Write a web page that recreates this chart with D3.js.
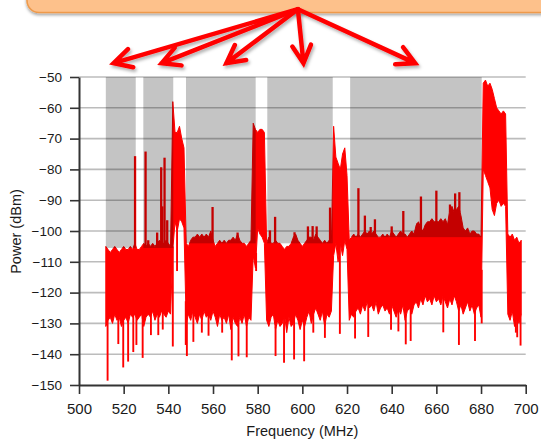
<!DOCTYPE html>
<html>
<head>
<meta charset="utf-8">
<script src="https://cdn.jsdelivr.net/npm/d3@7"></script>
<style>
    body { margin: 0; background: #fff; }
    svg { display: block; font-family: "Liberation Sans", Arial, sans-serif; }
</style>
</head>
<body>
<svg id="chart" width="541" height="440"></svg>
<script>

// ****************** data ***************************

var xTicks = [500, 520, 540, 560, 580, 600, 620, 640, 660, 680, 700];
var yTicks = [-150, -140, -130, -120, -110, -100, -90, -80, -70, -60, -50];

// 1 MHz bins of the sweep, 512 .. 698 MHz
var freqs = d3.range(512, 699);

// max hold / min hold of every bin (dBm)
var upperDbm = [
    -105, -106, -107, -106, -105, -106, -107, -106, -105, -106,
    -106, -105, -106, -104, -106, -106, -105, -104, -105, -104,
    -105, -104, -105, -104, -103, -104, -104, -103, -104, -105,
    -58, -68, -68, -66, -70, -73, -104, -105, -103, -102,
    -102, -101, -102, -101, -102, -101, -102, -100, -103, -105,
    -104, -103, -104, -103, -104, -103, -103, -102, -103, -101,
    -103, -104, -104, -105, -104, -103, -65, -67, -68, -67,
    -67, -68, -104, -102, -104, -104, -103, -104, -104, -105,
    -106, -105, -105, -104, -102, -101, -103, -104, -105, -104,
    -103, -102, -102, -103, -101, -102, -103, -104, -103, -104,
    -103, -104, -66, -76, -78, -80, -75, -73, -82, -103,
    -102, -101, -102, -101, -102, -101, -100, -101, -100, -101,
    -100, -101, -102, -102, -101, -102, -101, -102, -100, -101,
    -102, -101, -100, -101, -101, -102, -101, -100, -101, -98,
    -97, -99, -100, -98, -97, -97, -96, -97, -97, -97,
    -96, -97, -96, -98, -93, -92, -94, -93, -92, -95,
    -99, -100, -99, -101, -100, -100, -101, -101, -102, -52,
    -51, -53, -52, -54, -57, -60, -61, -62, -61, -62,
    -101, -102, -101, -103, -102, -104, -103
];
var lowerDbm = [
    -131, -129, -128, -130, -127, -129, -128, -131, -129, -128,
    -130, -127, -128, -127, -129, -128, -127, -131, -128, -127,
    -128, -126, -129, -127, -128, -126, -127, -128, -126, -127,
    -106, -97, -100, -96, -97, -99, -130, -127, -129, -126,
    -128, -130, -127, -129, -126, -128, -127, -129, -126, -128,
    -131, -127, -129, -128, -130, -127, -132, -128, -130, -131,
    -128, -130, -127, -131, -128, -129, -108, -112, -99, -101,
    -102, -104, -129, -131, -128, -127, -132, -129, -131, -130,
    -127, -133, -128, -131, -130, -127, -129, -132, -129, -131,
    -128, -126, -130, -127, -125, -127, -129, -126, -131, -127,
    -128, -126, -108, -104, -110, -104, -108, -103, -106, -129,
    -127, -128, -126, -125, -127, -124, -126, -123, -125, -124,
    -126, -123, -127, -125, -124, -126, -125, -127, -124, -126,
    -128, -125, -127, -124, -129, -126, -125, -127, -124, -123,
    -125, -122, -124, -121, -123, -122, -124, -121, -123, -122,
    -124, -121, -123, -125, -122, -124, -121, -123, -126, -124,
    -127, -125, -123, -126, -124, -127, -125, -124, -128, -80,
    -82, -84, -86, -93, -95, -91, -90, -92, -91, -92,
    -127, -129, -126, -131, -128, -130, -127
];

// narrow carriers sticking out of the floor
var spikeFreq = [525.1, 529.8, 531.0, 535.0, 536.8, 537.3, 538.3, 539.5, 559.8, 571.0,
    585.5, 587.8, 596.5, 602.5, 604.6, 606.4, 612.4, 625.1, 628.0, 630.6,
    632.5, 640.0, 645.2, 651.5, 653.1, 660.0, 666.1, 668.4, 670.3];
var spikePeak = [-75.7, -74.2, -103, -100.5, -79.3, -92, -76.2, -96.5, -92.2, -100.5,
    -99.8, -95.4, -100.4, -98.5, -98.4, -98.5, -92.4, -86.1, -95.0, -98.7,
    -96.2, -98.5, -93.5, -97.5, -88.8, -86.9, -91.4, -87.8, -87.4];

// deep single-bin drops
var dipFreq = [512.8, 517.6, 519.8, 522.0, 524.3, 525.7, 528.5, 532.2, 535.5, 537.5,
    542.0, 543.9, 547.8, 548.3, 551.2, 555.0, 558.0, 564.1, 568.4, 571.4,
    575.1, 579.3, 588.0, 591.8, 596.3, 600.8, 604.9, 610.1, 616.8, 623.6,
    629.5, 639.7, 643.0, 646.3, 648.5, 663.1, 670.1, 677.3, 680.3, 695.6,
    696.2, 697.7];
var dipLow = [-148.6, -136.7, -144.3, -142.4, -139.3, -137, -141.2, -133.8, -133.8, -132,
    -137.5, -113, -137, -140.6, -136, -133, -134, -133, -142, -140.7,
    -141, -113, -140.6, -142.8, -141.7, -142.3, -133, -134.7, -133.4, -134.9,
    -134.4, -132.1, -132.6, -136.8, -135.7, -132.9, -137, -135.7, -130, -133,
    -134.5, -137.2];

// white-space bands (shaded)
var bandStart = [512, 528.8, 547.9, 584.3, 621.4];
var bandEnd = [525.4, 542.2, 579.1, 613.6, 680.3];
var bandFloor = [-105.5, -105.5, -104, -104, -102];

// callout arrows: common origin, one tip per band
var arrowFreq = [515.5, 537, 566, 600.5, 650.5];
var arrowTipDbm = -45.5;
var arrowFrom = [598, -28];


SpectrumChart = function(_svg) {
    this.svg = _svg;
    this.initVis();
}

SpectrumChart.prototype.initVis = function() {
    var vis = this;

    vis.margin = {left: 79, top: 77, right: 15.3, bottom: 55};
    vis.width = +vis.svg.attr("width") - vis.margin.left - vis.margin.right;
    vis.height = +vis.svg.attr("height") - vis.margin.top - vis.margin.bottom;

    vis.x = d3.scaleLinear().domain([500, 700]).range([0, vis.width]);
    vis.y = d3.scaleLinear().domain([-150, -50]).range([vis.height, 0]);

    var defs = vis.svg.append("defs");
    defs.append("filter").attr("id", "boxShadow")
        .attr("x", "-10%").attr("y", "-50%").attr("width", "120%").attr("height", "200%")
        .append("feDropShadow")
        .attr("dx", 0).attr("dy", 2).attr("stdDeviation", 1.8)
        .attr("flood-color", "#000").attr("flood-opacity", 0.35);
    defs.append("filter").attr("id", "arrowShadow")
        .attr("x", "-20%").attr("y", "-20%").attr("width", "140%").attr("height", "160%")
        .append("feDropShadow")
        .attr("dx", 1.5).attr("dy", 2.5).attr("stdDeviation", 1.5)
        .attr("flood-color", "#000").attr("flood-opacity", 0.3);

    vis.g = vis.svg.append("g")
        .attr("transform", "translate(" + vis.margin.left + "," + vis.margin.top + ")");

    vis.wrangleData();
}

SpectrumChart.prototype.wrangleData = function() {
    var vis = this;

    vis.trace = freqs.map(function(f, i) {
        return {f: f, hi: upperDbm[i], lo: lowerDbm[i]};
    });

    // envelope value at an arbitrary frequency, for anchoring spikes / dips
    function envAt(key, f) {
        var i = Math.max(0, Math.min(freqs.length - 2, Math.floor(f - freqs[0])));
        var t = f - freqs[i];
        return vis.trace[i][key] * (1 - t) + vis.trace[i + 1][key] * t;
    }

    vis.spikes = spikeFreq.map(function(f, i) {
        return {f: f, from: envAt("hi", f) - 1, to: spikePeak[i]};
    });
    vis.dips = dipFreq.map(function(f, i) {
        return {f: f, from: envAt("lo", f) + 1, to: dipLow[i]};
    });
    vis.bands = bandStart.map(function(s, i) {
        return {s: s, e: bandEnd[i], floor: bandFloor[i]};
    });

    vis.updateVis();
}

SpectrumChart.prototype.updateVis = function() {
    var vis = this;
    var x = vis.x, y = vis.y;

    // ****************** grid ***************************
    vis.g.append("g").attr("class", "grid")
        .selectAll("line")
        .data(yTicks.filter(function(d) { return d > -150; }))
        .enter().append("line")
        .attr("x1", 0).attr("x2", vis.width)
        .attr("y1", function(d) { return y(d); })
        .attr("y2", function(d) { return y(d); })
        .attr("stroke", "#bcbcbc")
        .attr("stroke-width", 1.6);

    // ****************** trace ***************************
    var area = d3.area()
        .x(function(d) { return x(d.f); })
        .y0(function(d) { return y(d.lo); })
        .y1(function(d) { return y(d.hi); });

    vis.g.append("path")
        .datum(vis.trace)
        .attr("d", area)
        .attr("fill", "#ff0000")
        .attr("stroke", "#ff0000")
        .attr("stroke-width", 1);

    vis.g.append("g").selectAll("line")
        .data(vis.spikes)
        .enter().append("line")
        .attr("x1", function(d) { return x(d.f); })
        .attr("x2", function(d) { return x(d.f); })
        .attr("y1", function(d) { return y(d.from); })
        .attr("y2", function(d) { return y(d.to); })
        .attr("stroke", "#ff0000")
        .attr("stroke-width", 2.3);

    vis.g.append("g").selectAll("line")
        .data(vis.dips)
        .enter().append("line")
        .attr("x1", function(d) { return x(d.f); })
        .attr("x2", function(d) { return x(d.f); })
        .attr("y1", function(d) { return y(d.from); })
        .attr("y2", function(d) { return y(d.to); })
        .attr("stroke", "#ff0000")
        .attr("stroke-width", 1.9);

    // ****************** shaded bands ***************************
    vis.g.append("g").selectAll("rect")
        .data(vis.bands)
        .enter().append("rect")
        .attr("x", function(d) { return x(d.s); })
        .attr("width", function(d) { return x(d.e) - x(d.s); })
        .attr("y", y(-50))
        .attr("height", function(d) { return y(d.floor) - y(-50); })
        .attr("fill", "#000")
        .attr("fill-opacity", 0.23);

    // ****************** axes ***************************
    var xAxis = d3.axisBottom(x).tickValues(xTicks).tickSize(9).tickPadding(9).tickSizeOuter(0);
    var yAxis = d3.axisLeft(y).tickValues(yTicks).tickSize(9).tickPadding(8).tickSizeOuter(0);

    var gx = vis.g.append("g")
        .attr("transform", "translate(0," + vis.height + ")")
        .call(xAxis);
    gx.selectAll("text").attr("font-size", 15).attr("fill", "#1a1a1a");

    var gy = vis.g.append("g").call(yAxis);
    gy.selectAll("text").attr("font-size", 13.5).attr("fill", "#1a1a1a");

    [gx, gy].forEach(function(a) {
        a.attr("font-family", null);
        a.select(".domain").attr("stroke", "#333").attr("stroke-width", 2);
        a.selectAll(".tick line").attr("stroke", "#333").attr("stroke-width", 1.6);
    });

    vis.g.append("text")
        .attr("x", vis.width / 2)
        .attr("y", vis.height + 50.5)
        .attr("text-anchor", "middle")
        .attr("font-size", 14.5)
        .attr("fill", "#1a1a1a")
        .text("Frequency (MHz)");

    vis.g.append("text")
        .attr("transform", "translate(" + (21 - vis.margin.left) + "," + (231.5 - vis.margin.top) + ") rotate(-90)")
        .attr("text-anchor", "middle")
        .attr("font-size", 14.5)
        .attr("fill", "#1a1a1a")
        .text("Power (dBm)");

    // ****************** callout ***************************
    vis.svg.append("rect")
        .attr("x", 27).attr("y", -40)
        .attr("width", 560).attr("height", 52.5)
        .attr("rx", 12).attr("ry", 12)
        .attr("fill", "#fdc18b")
        .attr("stroke", "#ee9a4c")
        .attr("stroke-width", 1.6)
        .attr("filter", "url(#boxShadow)");

    var ox = x(arrowFrom[0]) + vis.margin.left;
    var oy = y(arrowFrom[1]) + vis.margin.top;

    function arrowPath(f) {
        var tx = x(f) + vis.margin.left;
        var ty = y(arrowTipDbm) + vis.margin.top;
        var ang = Math.atan2(ty - oy, tx - ox);
        var len = 20, spread = 28 * Math.PI / 180;
        var l1 = [tx - len * Math.cos(ang - spread), ty - len * Math.sin(ang - spread)];
        var l2 = [tx - len * Math.cos(ang + spread), ty - len * Math.sin(ang + spread)];
        return "M" + ox + "," + oy + "L" + tx + "," + ty +
            "M" + l1[0] + "," + l1[1] + "L" + tx + "," + ty + "L" + l2[0] + "," + l2[1];
    }

    vis.svg.append("g")
        .attr("filter", "url(#arrowShadow)")
        .selectAll("path")
        .data(arrowFreq)
        .enter().append("path")
        .attr("d", arrowPath)
        .attr("fill", "none")
        .attr("stroke", "#ff0000")
        .attr("stroke-width", 4.5)
        .attr("stroke-linecap", "round")
        .attr("stroke-linejoin", "miter");
}

new SpectrumChart(d3.select("#chart"));

</script>
</body>
</html>
